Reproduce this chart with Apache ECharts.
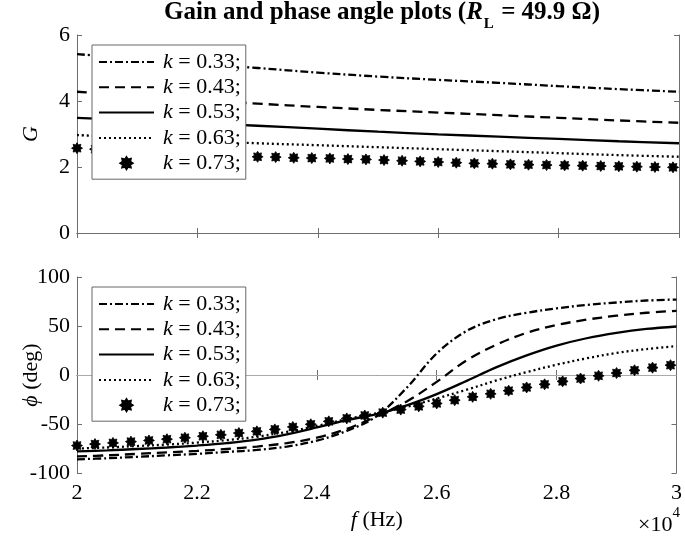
<!DOCTYPE html>
<html><head><meta charset="utf-8">
<script src="https://cdn.jsdelivr.net/npm/echarts/dist/echarts.min.js"></script>
<style>html,body{margin:0;padding:0;background:#fff}#c{width:685px;height:539px}</style>
</head><body><div id="c"></div>
<script>
const names = ['k = 0.33;', 'k = 0.43;', 'k = 0.53;', 'k = 0.63;', 'k = 0.73;'];
// x in units of 10^4 Hz
const fGain = [2.0, 2.1, 2.2, 2.3, 2.4, 2.5, 2.6, 2.7, 2.8, 2.9, 3.0];
const gain033 = [5.42, 5.28, 5.13, 5.00, 4.86, 4.74, 4.64, 4.55, 4.45, 4.36, 4.28];
const gain043 = [4.28, 4.15, 4.03, 3.92, 3.82, 3.73, 3.65, 3.57, 3.49, 3.41, 3.34];
const gain053 = [3.49, 3.41, 3.33, 3.25, 3.16, 3.07, 2.99, 2.92, 2.85, 2.78, 2.72];
const gain063 = [2.97, 2.88, 2.80, 2.72, 2.66, 2.60, 2.54, 2.48, 2.42, 2.36, 2.31];
const fMark = [2.00, 2.03, 2.06, 2.09, 2.12, 2.15, 2.18, 2.21, 2.24, 2.27, 2.30, 2.33, 2.36, 2.39, 2.42, 2.45, 2.48,
  2.51, 2.54, 2.57, 2.60, 2.63, 2.66, 2.69, 2.72, 2.75, 2.78, 2.81, 2.84, 2.87, 2.90, 2.93, 2.96, 2.99];
const gain073 = [2.57, 2.54, 2.51, 2.48, 2.45, 2.43, 2.40, 2.38, 2.36, 2.33, 2.31, 2.30, 2.28, 2.27, 2.26, 2.24, 2.23,
  2.21, 2.19, 2.17, 2.15, 2.13, 2.11, 2.10, 2.08, 2.07, 2.06, 2.05, 2.04, 2.03, 2.02, 2.01, 2.00, 1.99];
const fPhase = [2.00, 2.05, 2.10, 2.15, 2.20, 2.25, 2.30, 2.35, 2.40, 2.45, 2.50, 2.55, 2.60, 2.65, 2.70, 2.75, 2.80, 2.85, 2.90, 2.95, 3.00];
const phase033 = [-86, -85, -83.5, -82, -80.5, -78.5, -76.5, -73, -67, -57, -42, -13, 22, 45, 57, 63.5, 68, 71.5, 74, 76, 77];
const phase043 = [-83, -82, -80.5, -79, -77.5, -75.5, -73, -69.5, -64, -55, -42, -27, -7, 15, 31, 43, 51, 56.5, 60.5, 63.5, 65.5];
const phase053 = [-78, -77, -75.5, -74, -72, -69.5, -66, -60.5, -53.5, -46, -40, -31, -19.5, -6, 8, 20, 30, 37.5, 43, 47, 49.5];
const phase063 = [-75, -74, -72.5, -71, -69, -66.5, -63, -58, -52, -45, -39, -32.5, -24, -15, -5.5, 3, 10.5, 17, 22.5, 26.5, 29.5];
const phase073 = [-72, -70.5, -69.3, -68, -66.8, -65.5, -64, -62.5, -61, -59.2, -57.5, -55.5, -53, -50.3, -47.3, -44.3, -41.3,
  -38.4, -35.3, -32, -29, -25.7, -22.3, -19.2, -16, -12.7, -9.5, -6.5, -3.6, -0.8, 2, 4.8, 7.5, 10];
const xTicks = {min: 2, max: 3, interval: 0.2};
const gTicks = {min: 0, max: 6, interval: 2};
const pTicks = {min: -100, max: 100, interval: 50};

const FONT = 'Liberation Serif';
const AX = '#6e6e6e';
// 8-pointed star path for the asterisk marker
let pts = [];
for (let i = 0; i < 16; i++) {
  const a = i * Math.PI / 8 - Math.PI / 2;
  const r = i % 2 === 0 ? 10 : 6.5;
  pts.push((10 + r * Math.cos(a)).toFixed(2) + ' ' + (10 + r * Math.sin(a)).toFixed(2));
}
const STAR = 'path://M' + pts.join(' L') + ' Z';

const zip = (xs, ys) => xs.map((x, i) => [x, ys[i]]);
const styles = [
  {type: [8, 3, 2, 3]},
  {type: [10, 6]},
  {type: 'solid'},
  {type: [2, 3]}
];
function lineSeries(idx, xi, yi, xs, ys, extra) {
  return Object.assign({
    name: names[idx], type: 'line', xAxisIndex: xi, yAxisIndex: yi,
    data: zip(xs, ys), symbol: 'none', showSymbol: false, smooth: 0.35,
    lineStyle: {color: '#000', width: 2.3, type: styles[idx].type},
    itemStyle: {color: '#000'}, z: 3
  }, extra || {});
}
function markSeries(xi, yi, xs, ys) {
  return {
    name: names[4], type: 'scatter', xAxisIndex: xi, yAxisIndex: yi,
    data: zip(xs, ys), symbol: STAR, symbolSize: 11,
    itemStyle: {color: '#000', opacity: 1, borderColor: '#000', borderWidth: 0.8}, z: 3
  };
}
function xAx(grid, pos, labels, extra) {
  return Object.assign({
    type: 'value', gridIndex: grid, position: pos, min: xTicks.min, max: xTicks.max, interval: xTicks.interval,
    axisLine: {show: true, lineStyle: {color: AX, width: 1}},
    axisTick: {show: true, inside: true, length: 5, lineStyle: {color: AX}},
    axisLabel: {show: labels, color: '#000', fontFamily: FONT, fontSize: 22, margin: 9,
      formatter: v => String(+v.toFixed(1))},
    splitLine: {show: false}, nameMoveOverlap: false
  }, extra || {});
}
function yAx(grid, pos, t, labels, extra) {
  return Object.assign({
    type: 'value', gridIndex: grid, position: pos, min: t.min, max: t.max, interval: t.interval,
    axisLine: {show: true, lineStyle: {color: AX, width: 1}},
    axisTick: {show: true, inside: true, length: 5, lineStyle: {color: AX}},
    axisLabel: {show: labels, color: '#000', fontFamily: FONT, fontSize: 22, margin: 7},
    splitLine: {show: false}, nameMoveOverlap: false
  }, extra || {});
}
function legendAt(top) {
  return {
    data: names.map((n, i) => i === 4 ? {name: n, icon: STAR, itemStyle: {opacity: 1}} : {name: n, itemStyle: {opacity: 0}}),
    orient: 'vertical', left: 92, top: top, itemWidth: 55, itemHeight: 12, itemGap: 3.3,
    padding: [6, 5, 5, 6], backgroundColor: '#fff', borderColor: '#666', borderWidth: 1,
    selectedMode: false, align: 'left', z: 10,
    formatter: n => '{i|k}' + n.substring(1),
    textStyle: {color: '#000', fontFamily: FONT, fontSize: 22, padding: [0, 0, 0, 4],
      rich: {i: {fontStyle: 'italic', fontFamily: FONT, fontSize: 22, color: '#000'}}}
  };
}

const chart = echarts.init(document.getElementById('c'), null, {renderer: 'canvas'});
chart.setOption({
  animation: false,
  backgroundColor: '#fff',
  title: {
    text: '{b|Gain and phase angle plots (}{bi|R}{sub|L}{b| = 49.9 Ω)}',
    left: 382, textAlign: 'center', top: 0, padding: 0,
    textStyle: {
      rich: {
        b: {fontFamily: FONT, fontWeight: 'bold', fontSize: 25, color: '#000', verticalAlign: 'top', lineHeight: 28},
        bi: {fontFamily: FONT, fontWeight: 'bold', fontStyle: 'italic', fontSize: 25, color: '#000', verticalAlign: 'top', lineHeight: 28},
        sub: {fontFamily: FONT, fontWeight: 'bold', fontSize: 15, color: '#000', verticalAlign: 'top', lineHeight: 15, padding: [17, 1, 0, 1]}
      }
    }
  },
  grid: [
    {left: 77, top: 35, width: 602, height: 198},
    {left: 77, top: 277, width: 602, height: 196}
  ],
  xAxis: [
    xAx(0, 'bottom', false),
    xAx(0, 'top', false),
    xAx(1, 'bottom', true, {
      name: '{i|f} (Hz)', nameLocation: 'middle', nameGap: 36,
      nameTextStyle: {fontFamily: FONT, fontSize: 22, color: '#000',
        rich: {i: {fontStyle: 'italic', fontFamily: FONT, fontSize: 22, color: '#000'}}}
    }),
    xAx(1, 'top', false)
  ],
  yAxis: [
    yAx(0, 'left', gTicks, true, {
      name: 'G', nameLocation: 'middle', nameGap: 35,
      nameTextStyle: {fontFamily: FONT, fontSize: 22, fontStyle: 'italic', color: '#000'}
    }),
    yAx(0, 'right', gTicks, false),
    yAx(1, 'left', pTicks, true, {
      name: '{i|ϕ} (deg)', nameLocation: 'middle', nameGap: 35,
      nameTextStyle: {fontFamily: FONT, fontSize: 22, color: '#000',
        rich: {i: {fontStyle: 'italic', fontFamily: FONT, fontSize: 22, color: '#000'}}}
    }),
    yAx(1, 'right', pTicks, false)
  ],
  legend: [legendAt(45), legendAt(287)],
  graphic: [{
    type: 'text', right: 5, top: 506, z: 20,
    style: {
      text: '{a|×10}{s|4}',
      rich: {
        a: {fontFamily: FONT, fontSize: 22, color: '#000', verticalAlign: 'top', padding: [8, 0, 0, 0]},
        s: {fontFamily: FONT, fontSize: 15, color: '#000', verticalAlign: 'top'}
      }
    }
  }],
  series: [
    lineSeries(0, 0, 0, fGain, gain033),
    lineSeries(1, 0, 0, fGain, gain043),
    lineSeries(2, 0, 0, fGain, gain053),
    lineSeries(3, 0, 0, fGain, gain063),
    markSeries(0, 0, fMark, gain073),
    lineSeries(0, 2, 2, fPhase, phase033, {
      markLine: {silent: true, symbol: ['none', 'none'], label: {show: false},
        lineStyle: {color: '#aaa', width: 1, type: 'solid'}, data: [{yAxis: 0}], z: 1}
    }),
    lineSeries(1, 2, 2, fPhase, phase043),
    lineSeries(2, 2, 2, fPhase, phase053),
    lineSeries(3, 2, 2, fPhase, phase063),
    markSeries(2, 2, fMark, phase073)
  ]
});
</script>
</body></html>
